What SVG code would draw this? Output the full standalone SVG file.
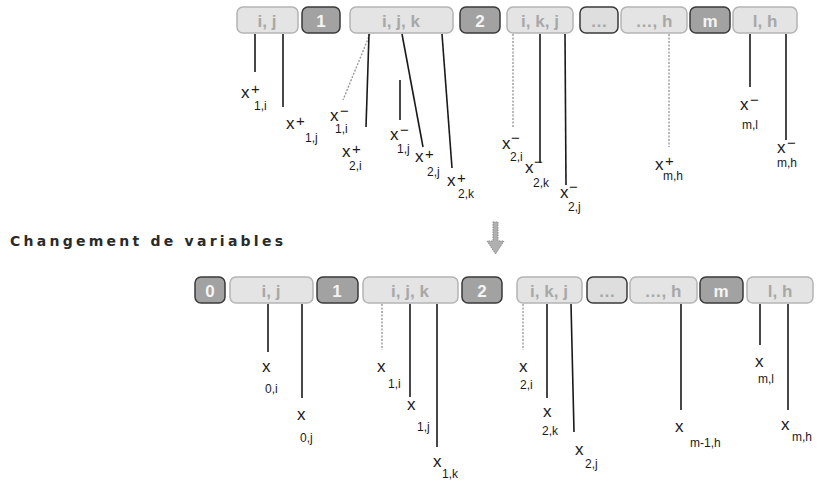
<svg xmlns="http://www.w3.org/2000/svg" width="817" height="480" viewBox="0 0 817 480">
  <defs>
    <style>
      .box { fill: #e4e4e4; stroke: #b4b4b4; stroke-width: 1.5; }
      .boxd { fill: #a2a2a2; stroke: #3a3a3a; stroke-width: 1.5; }
      .boxo { fill: #dedede; stroke: #3a3a3a; stroke-width: 1.5; }
      .bt { font-family: "Liberation Sans", Arial, sans-serif; font-size: 17px; font-weight: bold; fill: #a8a8a8; text-anchor: middle; }
      .btd { font-family: "Liberation Sans", Arial, sans-serif; font-size: 17px; font-weight: bold; fill: #f4f4f4; text-anchor: middle; }
      .ln { stroke: #1a1a1a; stroke-width: 1.6; fill: none; }
      .lnf { stroke: #9a9a9a; stroke-width: 1.4; fill: none; stroke-dasharray: 2 1.5; }
      .v { font-family: "Liberation Sans", Arial, sans-serif; font-size: 17px; fill: #1a1a1a; }
      .sup { font-family: "Liberation Sans", Arial, sans-serif; font-size: 15px; fill: #1a1a1a; }
      .sub { font-family: "Liberation Sans", Arial, sans-serif; font-size: 12px; fill: #1a1a1a; }
      .title { font-family: "DejaVu Sans", sans-serif; font-size: 14px; font-weight: bold; fill: #2a2a2a; }
    </style>
  </defs>

  <!-- upper sequence of blocks -->
  <g id="top-ij"><rect class="box" x="237" y="7" width="61" height="26" rx="6"/><text class="bt" x="267" y="27">i, j</text></g>
  <g id="top-1"><rect class="boxd" x="302" y="7" width="38" height="26" rx="6"/><text class="btd" x="321" y="27">1</text></g>
  <g id="top-ijk"><rect class="box" x="350" y="7" width="103" height="26" rx="6"/><text class="bt" x="401" y="27">i, j, k</text></g>
  <g id="top-2"><rect class="boxd" x="460" y="7" width="40" height="26" rx="6"/><text class="btd" x="480" y="27">2</text></g>
  <g id="top-ikj"><rect class="box" x="507" y="7" width="66" height="26" rx="6"/><text class="bt" x="540" y="27">i, k, j</text></g>
  <g id="top-dots"><rect class="boxo" x="580" y="7" width="38" height="26" rx="6"/><text class="bt" x="599" y="27">…</text></g>
  <g id="top-h"><rect class="box" x="621" y="7" width="66" height="26" rx="6"/><text class="bt" x="654" y="27">…, h</text></g>
  <g id="top-m"><rect class="boxd" x="690" y="7" width="40" height="26" rx="6"/><text class="btd" x="710" y="27">m</text></g>
  <g id="top-lh"><rect class="box" x="733" y="7" width="64" height="26" rx="6"/><text class="bt" x="765" y="27">l, h</text></g>

  <!-- lower sequence of blocks -->
  <g id="bot-0"><rect class="boxd" x="195" y="277" width="30" height="26" rx="6"/><text class="btd" x="210" y="297">0</text></g>
  <g id="bot-ij"><rect class="box" x="230" y="277" width="83" height="26" rx="6"/><text class="bt" x="271" y="297">i, j</text></g>
  <g id="bot-1"><rect class="boxd" x="317" y="277" width="41" height="26" rx="6"/><text class="btd" x="337" y="297">1</text></g>
  <g id="bot-ijk"><rect class="box" x="363" y="277" width="95" height="26" rx="6"/><text class="bt" x="410" y="297">i, j, k</text></g>
  <g id="bot-2"><rect class="boxd" x="462" y="277" width="40" height="26" rx="6"/><text class="btd" x="482" y="297">2</text></g>
  <g id="bot-ikj"><rect class="box" x="517" y="277" width="65" height="26" rx="6"/><text class="bt" x="549" y="297">i, k, j</text></g>
  <g id="bot-dots"><rect class="boxo" x="587" y="277" width="40" height="26" rx="6"/><text class="bt" x="607" y="297">…</text></g>
  <g id="bot-h"><rect class="box" x="630" y="277" width="67" height="26" rx="6"/><text class="bt" x="663" y="297">…, h</text></g>
  <g id="bot-m"><rect class="boxd" x="700" y="277" width="43" height="26" rx="6"/><text class="btd" x="721" y="297">m</text></g>
  <g id="bot-lh"><rect class="box" x="747" y="277" width="66" height="26" rx="6"/><text class="bt" x="780" y="297">l, h</text></g>

  <!-- connectors -->
  <g id="connectors">
    <line class="ln" x1="255" y1="34" x2="255" y2="72"/>
    <line class="ln" x1="283" y1="34" x2="283" y2="107"/>
    <line class="lnf" x1="370" y1="34" x2="343" y2="100"/>
    <line class="ln" x1="369" y1="34" x2="366" y2="127"/>
    <line class="ln" x1="400" y1="80" x2="400" y2="120"/>
    <line class="ln" x1="402" y1="34" x2="423" y2="147"/>
    <line class="ln" x1="442" y1="34" x2="452" y2="168"/>
    <line class="lnf" x1="513" y1="34" x2="513" y2="128"/>
    <line class="ln" x1="540" y1="34" x2="540" y2="163"/>
    <line class="ln" x1="565" y1="34" x2="566" y2="185"/>
    <line class="lnf" x1="669" y1="34" x2="669" y2="147"/>
    <line class="ln" x1="750" y1="34" x2="750" y2="87"/>
    <line class="ln" x1="786" y1="34" x2="786" y2="140"/>

    <line class="ln" x1="268" y1="304" x2="268" y2="352"/>
    <line class="ln" x1="302" y1="304" x2="302" y2="398"/>
    <line class="lnf" x1="382" y1="304" x2="382" y2="350"/>
    <line class="ln" x1="410" y1="304" x2="410" y2="397"/>
    <line class="ln" x1="437" y1="304" x2="437" y2="447"/>
    <line class="lnf" x1="523" y1="304" x2="523" y2="350"/>
    <line class="ln" x1="547" y1="304" x2="547" y2="398"/>
    <line class="ln" x1="571" y1="304" x2="574" y2="432"/>
    <line class="ln" x1="681" y1="304" x2="681" y2="410"/>
    <line class="ln" x1="760" y1="304" x2="760" y2="345"/>
    <line class="ln" x1="788" y1="304" x2="788" y2="410"/>
  </g>

  <!-- upper variable labels -->
  <g id="lab-top">
    <text class="v" x="241" y="98">x</text><text class="sup" x="251" y="94">+</text><text class="sub" x="254" y="110">1,i</text>
    <text class="v" x="286" y="129">x</text><text class="sup" x="296" y="126">+</text><text class="sub" x="305" y="142">1,j</text>
    <text class="v" x="330" y="121">x</text><text class="sup" x="340" y="116">−</text><text class="sub" x="335" y="133">1,i</text>
    <text class="v" x="342" y="157">x</text><text class="sup" x="352" y="154">+</text><text class="sub" x="349" y="170">2,i</text>
    <text class="v" x="390" y="140">x</text><text class="sup" x="400" y="135">−</text><text class="sub" x="397" y="153">1,j</text>
    <text class="v" x="415" y="162">x</text><text class="sup" x="425" y="159">+</text><text class="sub" x="427" y="176">2,j</text>
    <text class="v" x="447" y="186">x</text><text class="sup" x="457" y="183">+</text><text class="sub" x="458" y="198">2,k</text>
    <text class="v" x="502" y="149">x</text><text class="sup" x="511" y="143">−</text><text class="sub" x="510" y="161">2,i</text>
    <text class="v" x="525" y="173">x</text><text class="sup" x="534" y="167">−</text><text class="sub" x="533" y="187">2,k</text>
    <text class="v" x="560" y="198">x</text><text class="sup" x="569" y="192">−</text><text class="sub" x="568" y="211">2,j</text>
    <text class="v" x="655" y="170">x</text><text class="sup" x="665" y="166">+</text><text class="sub" x="663" y="180">m,h</text>
    <text class="v" x="740" y="110">x</text><text class="sup" x="750" y="105">−</text><text class="sub" x="742" y="129">m,l</text>
    <text class="v" x="777" y="153">x</text><text class="sup" x="787" y="148">−</text><text class="sub" x="777" y="167">m,h</text>
  </g>

  <!-- lower variable labels -->
  <g id="lab-bot">
    <text class="v" x="262" y="372">x</text><text class="sub" x="265" y="393">0,i</text>
    <text class="v" x="297" y="420">x</text><text class="sub" x="300" y="442">0,j</text>
    <text class="v" x="377" y="372">x</text><text class="sub" x="388" y="388">1,i</text>
    <text class="v" x="407" y="410">x</text><text class="sub" x="417" y="431">1,j</text>
    <text class="v" x="433" y="467">x</text><text class="sub" x="442" y="478">1,k</text>
    <text class="v" x="519" y="372">x</text><text class="sub" x="520" y="389">2,i</text>
    <text class="v" x="543" y="417">x</text><text class="sub" x="542" y="435">2,k</text>
    <text class="v" x="575" y="455">x</text><text class="sub" x="585" y="468">2,j</text>
    <text class="v" x="675" y="432">x</text><text class="sub" x="690" y="447">m-1,h</text>
    <text class="v" x="755" y="367">x</text><text class="sub" x="758" y="383">m,l</text>
    <text class="v" x="781" y="430">x</text><text class="sub" x="792" y="441">m,h</text>
  </g>

  <!-- transition caption and arrow -->
  <text class="title" x="10" y="246" textLength="273" lengthAdjust="spacing">Changement de variables</text>
  <g id="arrow">
    <polygon points="493,222 498,222 498,241 504,241 495.5,254 487,241 493,241" fill="#b0b0b0" stroke="#8a8a8a" stroke-width="1" stroke-dasharray="1.5 1"/>
  </g>
</svg>
